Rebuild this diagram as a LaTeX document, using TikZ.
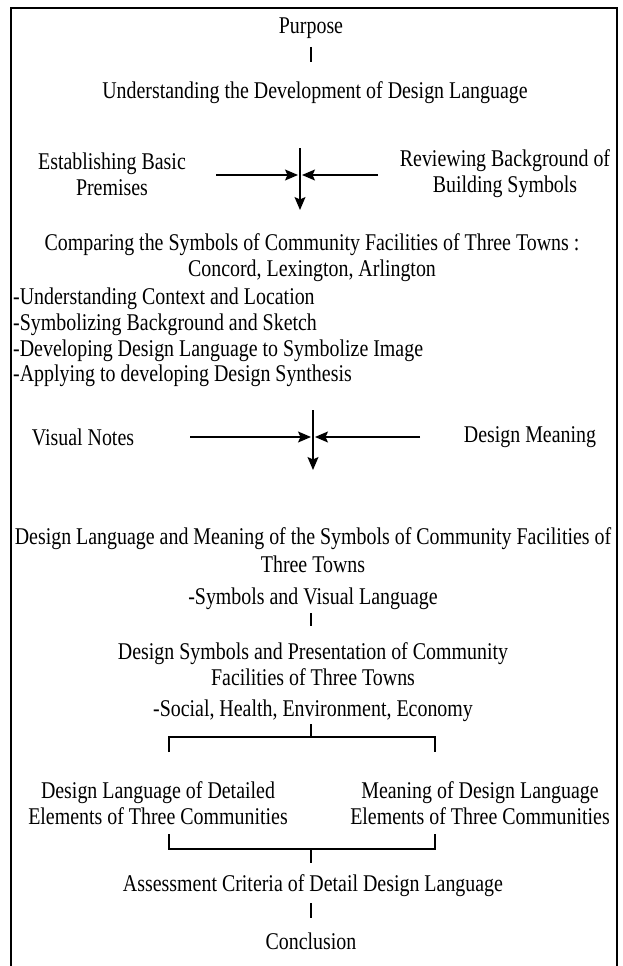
\documentclass[tikz,border=0pt]{standalone}
\usepackage{fontspec}
\setmainfont{Liberation Serif}[FakeStretch=0.83]
\usetikzlibrary{arrows.meta}
\tikzset{
  txt/.style={font=\fontsize{24}{26}\selectfont, inner sep=0pt, align=center},
  ltxt/.style={font=\fontsize{24}{26}\selectfont, inner sep=0pt, anchor=west},
  conn/.style={line width=1.1pt},
  arr/.style={line width=1.2pt, -{Stealth[length=13pt,width=11pt,inset=2.5pt]}},
  frame/.style={line width=1.4pt}
}
\begin{document}
\begin{tikzpicture}[x=1pt,y=-1pt]
\useasboundingbox (0,0) rectangle (622,966);
\draw[frame] (11,966) -- (11,8) -- (617,8) -- (617,966);

\node[txt] (purpose) at (311,28) {Purpose};
\node[txt] (underst) at (315,93) {Understanding the Development of Design Language};
\draw[conn] (311,47) -- (311,62);

\node[txt] (estab) at (112,174) {Establishing Basic\\Premises};
\node[txt] (review) at (505,174) {Reviewing Background of\\Building Symbols};
\coordinate (v1top) at (300,148);
\coordinate (v1bot) at (300,210);
\coordinate (l1s) at (216,175);
\coordinate (l1e) at (298,175);
\coordinate (r1s) at (378,175);
\coordinate (r1e) at (302,175);
\draw[arr] (v1top) -- (v1bot);
\draw[arr] (l1s) -- (l1e);
\draw[arr] (r1s) -- (r1e);

\node[txt] (compare) at (312,258) {Comparing the Symbols of Community Facilities of Three Towns :\\Concord, Lexington, Arlington};

\node[ltxt] (li1) at (13,299) {-Understanding Context and Location};
\node[ltxt] (li2) at (13,325) {-Symbolizing Background and Sketch};
\node[ltxt] (li3) at (13,351) {-Developing Design Language to Symbolize Image};
\node[ltxt] (li4) at (13,376) {-Applying to developing Design Synthesis};

\node[txt] (visual) at (83,437) {Visual Notes};
\node[txt] (meaning) at (530,437) {Design Meaning};
\coordinate (v2top) at (313,410);
\coordinate (v2bot) at (313,470);
\coordinate (l2s) at (190,437);
\coordinate (l2e) at (311,437);
\coordinate (r2s) at (420,437);
\coordinate (r2e) at (315,437);
\draw[arr] (v2top) -- (v2bot);
\draw[arr] (l2s) -- (l2e);
\draw[arr] (r2s) -- (r2e);

\node[txt, font=\fontsize{24}{28}\selectfont] (dlm) at (313,550) {Design Language and Meaning of the Symbols of Community Facilities of\\Three Towns};
\node[txt] (symb) at (313,599) {-Symbols and Visual Language};
\draw[conn] (311,613) -- (311,626);
\node[txt] (dsp) at (313,664) {Design Symbols and Presentation of Community\\Facilities of Three Towns};
\node[txt] (social) at (313,711) {-Social, Health, Environment, Economy};

\coordinate (bt) at (311,737);
\draw[conn] (311,724) -- (bt);
\draw[conn] (169,752) -- (169,737) -- (435,737) -- (435,752);

\node[txt] (dld) at (158,803) {Design Language of Detailed\\Elements of Three Communities};
\node[txt] (mdl) at (480,803) {Meaning of Design Language\\Elements of Three Communities};

\draw[conn] (169,834) -- (169,849) -- (435,849) -- (435,834);
\draw[conn] (311,849) -- (311,863);

\node[txt] (assess) at (313,886) {Assessment Criteria of Detail Design Language};
\draw[conn] (311,903) -- (311,918);
\node[txt] (concl) at (311,941) {Conclusion};
\end{tikzpicture}
\end{document}
